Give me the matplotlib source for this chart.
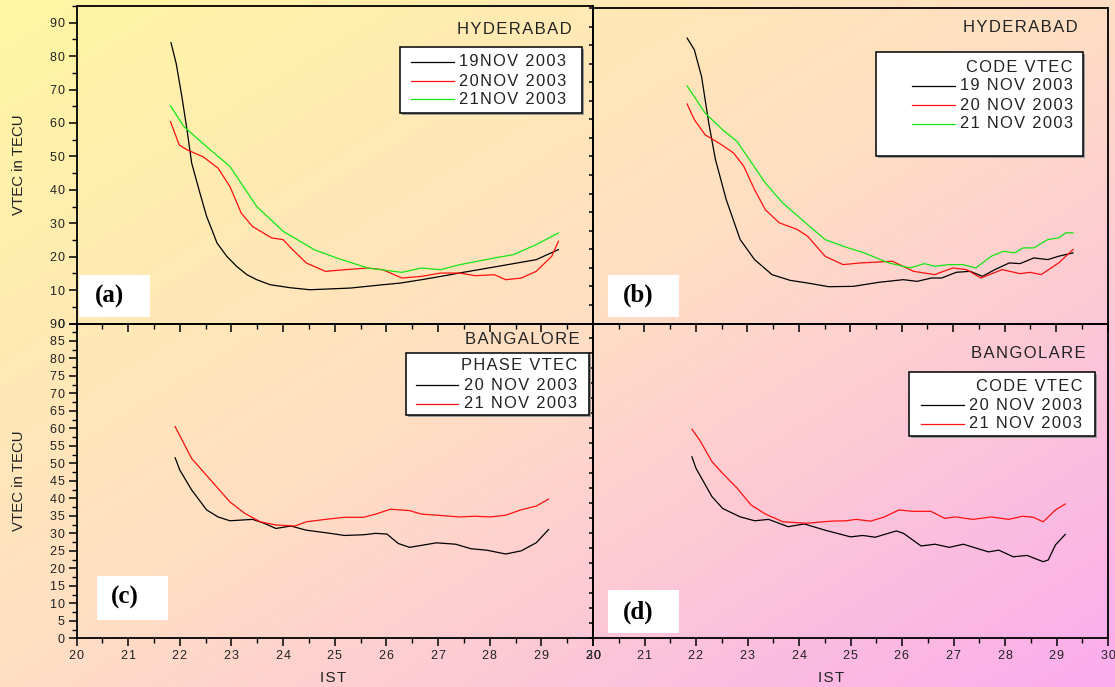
import matplotlib
matplotlib.use('Agg')
import matplotlib.pyplot as plt
import numpy as np
from matplotlib.patches import Rectangle
from matplotlib.lines import Line2D
from matplotlib.ticker import MultipleLocator, FixedLocator, FuncFormatter, NullFormatter

W, H = 1115, 687
HS = '\u200a'
plt.rcParams['font.family'] = ['Liberation Sans', 'DejaVu Sans']

# Hyderabad, phase VTEC (panel a)
hyd_p19_x = [21.83, 21.93, 22.04, 22.14, 22.23, 22.39, 22.52, 22.62, 22.72, 22.91, 23.10, 23.30,
             23.49, 23.75, 24.14, 24.52, 25.30, 25.93, 26.27, 26.68, 27.24, 27.41, 28.16, 28.90,
             29.33]
hyd_p19_y = [84.0, 77.8, 67.9, 57.9, 48.0, 39.0, 32.0, 28.1, 24.1, 20.1, 17.1, 14.6,
             13.1, 11.6, 10.7, 10.1, 10.6, 11.6, 12.1, 13.1, 14.6, 15.1, 17.1, 19.1,
             22.1]
hyd_p20_x = [21.82, 21.99, 22.15, 22.45, 22.74, 22.97, 23.19, 23.41, 23.78, 24.00, 24.15, 24.45,
             24.82, 25.19, 25.64, 25.93, 26.30, 26.68, 27.05, 27.42, 27.72, 28.09, 28.31, 28.61,
             28.90, 29.20, 29.33]
hyd_p20_y = [60.4, 53.4, 51.9, 49.9, 46.5, 41.0, 33.0, 29.0, 25.6, 25.1, 22.6, 18.1,
             15.6, 16.1, 16.6, 16.1, 13.6, 14.1, 15.1, 15.1, 14.3, 14.6, 13.1, 13.6,
             15.6, 20.1, 24.6]
hyd_p21_x = [21.82, 22.08, 22.52, 22.97, 23.49, 24.00, 24.60, 25.04, 25.64, 26.30, 26.68, 27.05,
             27.42, 28.09, 28.46, 28.90, 29.33]
hyd_p21_y = [65.1, 58.9, 52.9, 47.0, 35.0, 27.6, 22.1, 19.6, 16.6, 15.3, 16.6, 16.1,
             17.6, 19.6, 20.6, 23.6, 27.1]

# Hyderabad, code VTEC (panel b)
hyd_c19_x = [21.83, 21.97, 22.11, 22.25, 22.38, 22.59, 22.86, 23.14, 23.48, 23.83, 24.17, 24.58,
             25.06, 25.55, 26.03, 26.30, 26.58, 26.78, 27.06, 27.33, 27.57, 27.81, 28.09, 28.30,
             28.57, 28.84, 29.05, 29.33]
hyd_c19_y = [85.3, 81.8, 73.8, 59.9, 49.0, 37.0, 25.1, 19.1, 14.6, 12.9, 12.1, 11.0,
             11.1, 12.3, 13.1, 12.6, 13.6, 13.6, 15.3, 15.6, 14.1, 16.1, 18.1, 17.9,
             19.6, 19.1, 20.1, 21.1]
hyd_c20_x = [21.83, 21.97, 22.18, 22.45, 22.73, 22.93, 23.14, 23.35, 23.62, 23.97, 24.17, 24.51,
             24.86, 25.20, 25.82, 26.23, 26.64, 26.99, 27.26, 27.54, 27.95, 28.30, 28.50, 28.71,
             29.05, 29.33]
hyd_c20_y = [65.6, 60.9, 56.4, 53.9, 51.0, 47.0, 40.0, 34.0, 30.1, 28.1, 26.1, 20.1,
             17.6, 18.1, 18.6, 15.6, 14.6, 16.6, 16.1, 13.6, 16.1, 14.9, 15.3, 14.6,
             18.1, 22.1]
hyd_c21_x = [21.83, 22.18, 22.52, 22.80, 23.00, 23.35, 23.69, 24.10, 24.51, 24.86, 25.27, 25.75,
             26.16, 26.44, 26.64, 26.92, 27.19, 27.44, 27.74, 27.98, 28.19, 28.36, 28.57, 28.84,
             29.05, 29.19, 29.33]
hyd_c21_y = [71.0, 62.9, 57.9, 54.4, 49.9, 42.0, 36.0, 30.5, 25.1, 23.1, 21.1, 18.1,
             16.6, 17.9, 17.1, 17.6, 17.6, 16.6, 20.1, 21.6, 21.1, 22.6, 22.6, 25.1,
             25.6, 27.1, 27.1]

# Bangalore, phase VTEC (panel c)
blr_p20_x = [21.91, 22.00, 22.23, 22.52, 22.74, 22.97, 23.41, 23.63, 23.86, 24.15, 24.45, 24.82,
             25.19, 25.56, 25.79, 26.01, 26.23, 26.45, 26.97, 27.34, 27.64, 27.94, 28.31, 28.61,
             28.90, 29.14]
blr_p20_y = [51.6, 48.1, 42.4, 36.7, 34.7, 33.6, 34.0, 32.9, 31.4, 32.1, 30.9, 30.2,
             29.4, 29.6, 30.0, 29.8, 27.1, 26.0, 27.3, 26.9, 25.6, 25.2, 24.1, 25.0,
             27.3, 31.1]
blr_p21_x = [21.91, 22.23, 22.60, 22.97, 23.26, 23.56, 23.86, 24.23, 24.45, 24.82, 25.19, 25.56,
             25.79, 26.08, 26.45, 26.68, 26.97, 27.42, 27.71, 28.01, 28.31, 28.60, 28.90, 29.14]
blr_p21_y = [60.5, 51.4, 45.2, 39.0, 35.7, 33.3, 32.4, 32.1, 33.3, 34.0, 34.6, 34.6,
             35.5, 36.9, 36.5, 35.5, 35.2, 34.7, 34.9, 34.7, 35.2, 36.7, 37.8, 39.8]

# Bangalore, code VTEC (panel d)
blr_c20_x = [21.92, 22.00, 22.31, 22.52, 22.86, 23.14, 23.41, 23.79, 24.10, 24.51, 25.00, 25.24,
             25.48, 25.89, 26.03, 26.37, 26.64, 26.92, 27.19, 27.68, 27.88, 28.16, 28.43, 28.74,
             28.84, 28.98, 29.17]
blr_c20_y = [51.9, 48.6, 40.5, 37.1, 34.7, 33.6, 34.0, 31.9, 32.7, 30.9, 29.0, 29.4,
             28.9, 30.7, 30.0, 26.4, 26.9, 26.0, 26.9, 24.7, 25.2, 23.3, 23.7, 21.9,
             22.4, 26.7, 29.7]
blr_c21_x = [21.92, 22.07, 22.31, 22.52, 22.80, 23.07, 23.35, 23.69, 24.15, 24.63, 24.91, 25.11,
             25.39, 25.66, 25.94, 26.21, 26.56, 26.83, 27.04, 27.38, 27.73, 28.07, 28.34, 28.55,
             28.74, 28.98, 29.17]
blr_c21_y = [59.8, 56.7, 50.5, 47.1, 42.9, 38.1, 35.5, 33.3, 32.9, 33.5, 33.6, 34.0,
             33.5, 34.7, 36.7, 36.3, 36.3, 34.3, 34.7, 34.0, 34.7, 34.0, 34.9, 34.6,
             33.3, 36.7, 38.4]

BLACK, RED, GREEN = '#000000', '#ff1010', '#14e614'


def spaced(s):
    return HS.join(s)


def fx(x):
    return x / W


def fy(y):
    return 1 - y / H


def rect(l, t, r, b):
    return [l / W, 1 - b / H, (r - l) / W, (b - t) / H]


fig = plt.figure(figsize=(W / 100, H / 100), dpi=100)

# diagonal yellow -> peach -> pink background
bg = fig.add_axes([0, 0, 1, 1], zorder=-10)
uu, vv = np.meshgrid(np.linspace(0, 1, 300), np.linspace(0, 1, 200))
t = (uu + vv) / 2
stops = [0, 0.5, 1]
rgb = np.dstack([np.interp(t, stops, [255, 255, 250]),
                 np.interp(t, stops, [247, 222, 172]),
                 np.interp(t, stops, [162, 196, 238])]) / 255
bg.imshow(rgb, aspect='auto', extent=[0, 1, 0, 1], interpolation='bilinear')
bg.axis('off')

ax_a = fig.add_axes(rect(76.5, 6, 593, 323.5))
ax_b = fig.add_axes(rect(593, 8, 1107.5, 323.5))
ax_c = fig.add_axes(rect(76.5, 323.5, 593, 638.3))
ax_d = fig.add_axes(rect(593, 323.5, 1108, 638.3))

tick_fmt = FuncFormatter(lambda v, p: spaced(f'{v:g}'))

for ax in (ax_a, ax_b, ax_c, ax_d):
    ax.set_facecolor('none')
    ax.set_xlim(20, 30)
    for sp in ax.spines.values():
        sp.set_linewidth(1.3)
    ax.xaxis.set_major_locator(MultipleLocator(1))
    ax.xaxis.set_minor_locator(MultipleLocator(0.5))
    ax.tick_params(which='major', direction='out', length=6, width=1.1,
                   labelsize=9, labelcolor='#222222', pad=2.5)
    ax.tick_params(which='minor', direction='out', length=3.5, width=1.0)
    ax.xaxis.set_major_formatter(tick_fmt)
    ax.yaxis.set_major_formatter(tick_fmt)

ax_a.set_ylim(0, 95)
ax_a.yaxis.set_major_locator(MultipleLocator(10))
ax_a.yaxis.set_minor_locator(MultipleLocator(5))
ax_a.xaxis.set_major_formatter(NullFormatter())

ax_b.set_ylim(0, 94.3)
ax_b.yaxis.set_major_locator(FixedLocator(np.linspace(0, 94.3, 18)))
ax_b.yaxis.set_major_formatter(NullFormatter())
ax_b.xaxis.set_major_formatter(NullFormatter())
ax_b.tick_params(axis='y', which='major', length=3)

ax_c.set_ylim(0, 90)
ax_c.yaxis.set_major_locator(MultipleLocator(5))
ax_c.yaxis.set_minor_locator(MultipleLocator(2.5))

ax_d.set_ylim(0, 90)
ax_d.yaxis.set_major_locator(FixedLocator(np.linspace(0, 90, 22)))
ax_d.yaxis.set_major_formatter(NullFormatter())
ax_d.tick_params(axis='y', which='major', length=3)

lw = 0.9
ax_a.plot(hyd_p19_x, hyd_p19_y, color=BLACK, lw=lw)
ax_a.plot(hyd_p20_x, hyd_p20_y, color=RED, lw=lw)
ax_a.plot(hyd_p21_x, hyd_p21_y, color=GREEN, lw=lw)

ax_b.plot(hyd_c19_x, hyd_c19_y, color=BLACK, lw=lw)
ax_b.plot(hyd_c20_x, hyd_c20_y, color=RED, lw=lw)
ax_b.plot(hyd_c21_x, hyd_c21_y, color=GREEN, lw=lw)

ax_c.plot(blr_p20_x, blr_p20_y, color=BLACK, lw=lw)
ax_c.plot(blr_p21_x, blr_p21_y, color=RED, lw=lw)

ax_d.plot(blr_c20_x, blr_c20_y, color=BLACK, lw=lw)
ax_d.plot(blr_c21_x, blr_c21_y, color=RED, lw=lw)

# axis titles
for ax in (ax_a, ax_c):
    ax.set_ylabel('VTEC in TECU', fontsize=10.8, color='#222222')
    ax.yaxis.set_label_coords(-0.097, 0.5)
ax_c.set_xlabel(spaced('IST'), fontsize=11, color='#222222')
ax_c.xaxis.set_label_coords(0.497, -0.103)
ax_d.set_xlabel(spaced('IST'), fontsize=11, color='#222222')
ax_d.xaxis.set_label_coords(0.462, -0.103)

# station names
stations = [('HYDERABAD', 572, 30), ('HYDERABAD', 1078, 27),
            ('BANGALORE', 580, 340), ('BANGOLARE', 1086, 353)]
for name, x, y in stations:
    fig.text(fx(x), fy(y), spaced(name), ha='right', va='center', fontsize=12, color='#222222')


def legend_box(l, t, r, b, title, title_xy, rows, handle_x, text_x):
    fig.patches.append(Rectangle((fx(l) + 0.002, fy(b) - 0.003), (r - l) / W, (b - t) / H,
                                 transform=fig.transFigure, facecolor='#9a9a9a',
                                 edgecolor='none', zorder=5))
    fig.patches.append(Rectangle((fx(l), fy(b)), (r - l) / W, (b - t) / H,
                                 transform=fig.transFigure, facecolor='white',
                                 edgecolor='black', lw=1.1, zorder=6))
    if title:
        fig.text(fx(title_xy[0]), fy(title_xy[1]), spaced(title), ha='right', va='center',
                 fontsize=11.8, color='#222222', zorder=7)
    for label, color, y in rows:
        fig.lines.append(Line2D([fx(handle_x[0]), fx(handle_x[1])], [fy(y), fy(y)],
                                transform=fig.transFigure, color=color, lw=lw, zorder=7))
        fig.text(fx(text_x), fy(y), spaced(label), ha='left', va='center',
                 fontsize=11.8, color='#222222', zorder=7)


legend_box(400, 47, 582, 113, None, None,
           [('19NOV 2003', BLACK, 62), ('20NOV 2003', RED, 81), ('21NOV 2003', GREEN, 99)],
           (411, 454), 459)
legend_box(876, 52, 1083, 156, 'CODE VTEC', (1073, 67),
           [('19 NOV 2003', BLACK, 86), ('20 NOV 2003', RED, 105), ('21 NOV 2003', GREEN, 124)],
           (912, 955), 960)
legend_box(406, 353, 589, 415, 'PHASE VTEC', (577, 365),
           [('20 NOV 2003', BLACK, 385), ('21 NOV 2003', RED, 404)],
           (416, 458), 464)
legend_box(909, 372, 1095, 436, 'CODE VTEC', (1082, 386),
           [('20 NOV 2003', BLACK, 405), ('21 NOV 2003', RED, 424)],
           (921, 964), 969)

# panel tags
tags = [('(a)', 79, 275, 150, 317, 109, 296),
        ('(b)', 608, 275, 679, 317, 638, 295),
        ('(c)', 97, 576, 168, 620, 125, 597),
        ('(d)', 608, 590, 679, 633, 638, 612)]
for tag, l, t, r, b, tx, ty in tags:
    fig.patches.append(Rectangle((fx(l), fy(b)), (r - l) / W, (b - t) / H,
                                 transform=fig.transFigure, facecolor='white',
                                 edgecolor='none', zorder=6))
    fig.text(fx(tx), fy(ty), tag, ha='center', va='center', fontsize=18, fontweight='bold',
             family=['Liberation Serif', 'DejaVu Serif'], zorder=7)

fig.savefig('out.png', dpi=100)
